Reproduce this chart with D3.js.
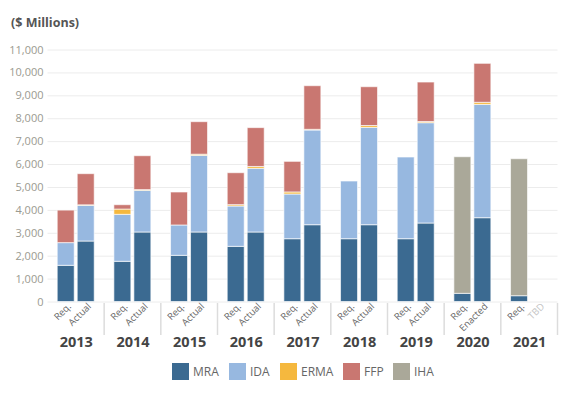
<!DOCTYPE html>
<html>
<head>
<meta charset="utf-8">
<script src="https://cdn.jsdelivr.net/npm/d3@7"></script>
<style>
  html, body { margin: 0; padding: 0; background: #fff; }
  svg { display: block; font-family: "Open Sans", "Noto Sans", sans-serif; }
</style>
</head>
<body>
<svg id="chart" width="568" height="396"></svg>
<script>
// ── DATA ────────────────────────────────────────────────────
const years = ['2013', '2014', '2015', '2016', '2017', '2018', '2019', '2020', '2021'];
const barLabels = [
  ['Req.', 'Actual'], ['Req.', 'Actual'], ['Req.', 'Actual'], ['Req.', 'Actual'],
  ['Req.', 'Actual'], ['Req.', 'Actual'], ['Req.', 'Actual'], ['Req.', 'Enacted'],
  ['Req.', 'TBD']
];
// values per bar: [req, actual] for each year, $ millions
const mra  = [1580, 2640, 1755, 3034, 2016, 3034, 2408, 3034, 2741, 3352, 2741, 3352, 2741, 3426, 357, 3658, 253, 0];
const ida  = [ 990, 1560, 2050, 1820, 1324, 3346, 1760, 2781, 1951, 4134, 2519, 4251, 3566, 4379,   0, 4948,   0, 0];
const erma = [   0,   20,  230,   30,    0,   50,   60,   80,   90,   30,    0,   80,    0,   50,   0,   90,   0, 0];
const ffp  = [1420, 1360,  190, 1480, 1440, 1420, 1394, 1695, 1336, 1904,    0, 1693,    0, 1725,   0, 1701,   0, 0];
const iha  = [   0,    0,    0,    0,    0,    0,    0,    0,    0,    0,    0,    0,    0,    0, 5963,   0, 5980, 0];

const seriesNames  = ['MRA', 'IDA', 'ERMA', 'FFP', 'IHA'];
const seriesColors = ['#3b6a91', '#97b8e0', '#f5b83e', '#c97771', '#aaa899'];
const yTicks = [0, 1000, 2000, 3000, 4000, 5000, 6000, 7000, 8000, 9000, 10000, 11000];

// ── SETUP ───────────────────────────────────────────────────
const svg = d3.select('#chart');
const X0 = 47.5, X1 = 557.5, Y0 = 301.5, YTOP = 49.5;

const x = d3.scaleBand().domain(years).range([X0, X1]).padding(0);
const xInner = d3.scaleBand().domain([0, 1]).range([9.7, 46.7]).paddingInner(0.15).paddingOuter(0);
const y = d3.scaleLinear().domain([0, 11000]).range([Y0, YTOP]);

// rows for stacking
const rows = [];
years.forEach((yr, i) => {
  [0, 1].forEach(j => {
    const k = i * 2 + j;
    rows.push({ year: yr, idx: j, label: barLabels[i][j],
      MRA: mra[k], IDA: ida[k], ERMA: erma[k], FFP: ffp[k], IHA: iha[k] });
  });
});
const stacked = d3.stack().keys(seriesNames)(rows);

// ── TITLE ───────────────────────────────────────────────────
svg.append('text')
  .attr('x', 11).attr('y', 27)
  .attr('font-size', 12.5).attr('font-weight', 700).attr('fill', '#555')
  .text('($ Millions)');

// ── GRID + Y AXIS ───────────────────────────────────────────
const yAxis = svg.append('g')
  .attr('transform', `translate(${X0},0)`)
  .call(d3.axisLeft(y).tickValues(yTicks).tickSize(-(X1 - X0)).tickFormat(d3.format(',')));
yAxis.select('.domain').remove();
yAxis.selectAll('.tick line').attr('stroke', '#ececec').attr('stroke-width', 1);
yAxis.selectAll('.tick text')
  .attr('x', -4).attr('fill', '#9a9a90')
  .attr('font-size', 11).attr('font-family', '"Open Sans", sans-serif');

// ── BARS ────────────────────────────────────────────────────
stacked.forEach((layer, si) => {
  svg.append('g')
    .attr('fill', seriesColors[si])
    .selectAll('rect')
    .data(layer.filter(d => d[1] - d[0] > 0))
    .join('rect')
    .attr('x', d => x(d.data.year) + xInner(d.data.idx))
    .attr('width', xInner.bandwidth())
    .attr('y', d => y(d[1]))
    .attr('height', d => y(d[0]) - y(d[1]))
    .attr('stroke', 'rgba(255,255,255,0.65)')
    .attr('stroke-width', 1);
});

// ── X LABELS ────────────────────────────────────────────────
const sepY0 = 303, sepY1 = 335;
svg.append('g').selectAll('line')
  .data(years.slice(1).map(d => x(d)).concat([X1]))
  .join('line')
  .attr('x1', d => d).attr('x2', d => d)
  .attr('y1', sepY0).attr('y2', sepY1)
  .attr('stroke', '#dcdcdc').attr('stroke-width', 1.5);

svg.append('g').selectAll('text')
  .data(rows)
  .join('text')
  .attr('transform', d => {
    const cx = x(d.year) + xInner(d.idx) + xInner.bandwidth() / 2 + 6;
    return `translate(${cx},307) rotate(-45)`;
  })
  .attr('text-anchor', 'end')
  .attr('font-size', 9.5)
  .attr('fill', d => d.label === 'TBD' ? '#c4c4c4' : '#666')
  .text(d => d.label);

svg.append('g').selectAll('text')
  .data(years)
  .join('text')
  .attr('x', d => x(d) + x.bandwidth() / 2 + 0.5)
  .attr('y', 347)
  .attr('text-anchor', 'middle')
  .attr('font-size', 14.5).attr('font-weight', 700).attr('fill', '#444')
  .text(d => d);

// ── LEGEND ──────────────────────────────────────────────────
const legendX = [172, 229, 280, 343, 393];
const legend = svg.append('g').selectAll('g')
  .data(seriesNames)
  .join('g')
  .attr('transform', (d, i) => `translate(${legendX[i]},363)`);
legend.append('rect')
  .attr('width', 17).attr('height', 17)
  .attr('fill', (d, i) => seriesColors[i]);
legend.append('text')
  .attr('x', 21).attr('y', 13)
  .attr('font-size', 12).attr('fill', '#666')
  .text(d => d);
</script>
</body>
</html>
